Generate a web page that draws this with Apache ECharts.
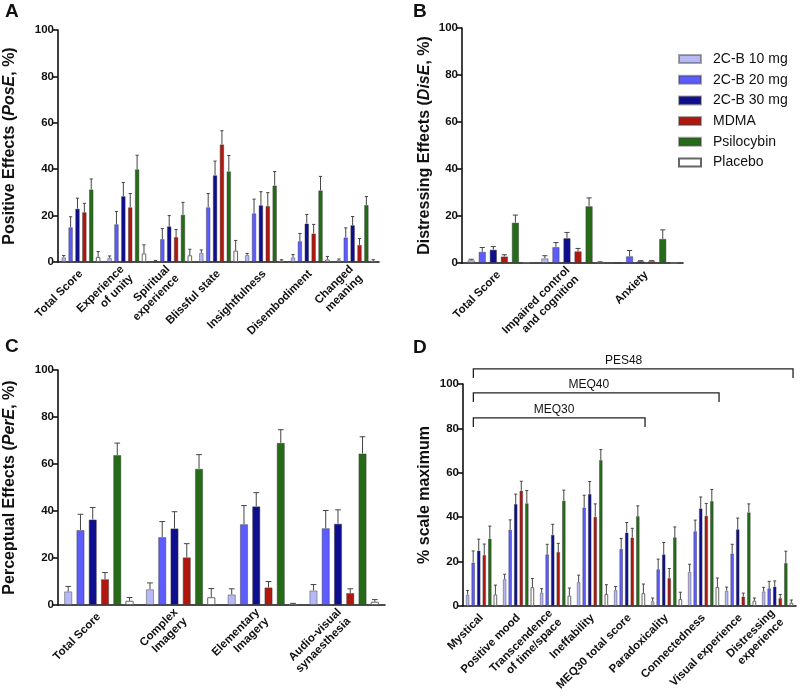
<!DOCTYPE html>
<html>
<head>
<meta charset="utf-8">
<script src="https://cdn.jsdelivr.net/npm/echarts@6/dist/echarts.min.js"></script>
<style>
  html, body { margin: 0; padding: 0; background: #fff; }
  #main { width: 800px; height: 696px; }
</style>
</head>
<body>
<div id="main"></div>
<script>
// groups (same order in every panel)
const groups = ['2C-B 10 mg', '2C-B 20 mg', '2C-B 30 mg', 'MDMA', 'Psilocybin', 'Placebo'];
const groupColors = ['#b7b9f5', '#5c5cff', '#0e0e8e', '#b0170f', '#256b18', '#ffffff'];

// A - positive effects
const posCats = ['Total Score', 'Experience\nof unity', 'Spiritual\nexperience', 'Blissful state',
  'Insightfulness', 'Disembodiment', 'Changed\nmeaning'];
const posMean = [
  [2.0, 1.8, 0.4, 3.9, 3.0, 2.0, 0.9],
  [15.0, 16.3, 9.9, 23.6, 21.0, 9.0, 10.6],
  [23.0, 28.4, 15.4, 37.4, 24.5, 16.6, 15.9],
  [21.5, 23.6, 10.8, 50.7, 24.2, 12.3, 7.4],
  [31.3, 40.0, 20.4, 39.1, 33.0, 30.9, 24.6],
  [2.2, 3.7, 2.9, 4.9, 0.6, 1.1, 0.5]
];
const posTop = [
  [2.8, 2.6, 0.7, 5.2, 3.7, 3.2, 1.3],
  [19.5, 21.8, 14.4, 29.5, 27.1, 12.3, 14.7],
  [27.5, 34.3, 20.0, 43.5, 30.3, 20.5, 19.6],
  [25.3, 29.5, 14.0, 56.6, 29.9, 16.2, 10.1],
  [35.8, 46.0, 25.7, 45.9, 39.0, 36.9, 28.2],
  [4.5, 7.4, 5.5, 9.3, 1.0, 2.4, 1.0]
];

// B - distressing effects
const disCats = ['Total Score', 'Impaired control\nand cognition', 'Anxiety'];
const disMean = [
  [1.2, 2.0, 0.0],
  [4.8, 6.8, 2.9],
  [5.7, 10.6, 0.8],
  [2.8, 5.0, 0.8],
  [17.2, 24.2, 10.3],
  [0.2, 0.3, 0.0]
];
const disTop = [
  [1.6, 3.1, 0.0],
  [6.6, 8.7, 5.3],
  [7.0, 13.0, 1.0],
  [3.5, 6.2, 1.0],
  [20.4, 27.7, 14.1],
  [0.2, 0.5, 0.0]
];

// C - perceptual effects
const perCats = ['Total Score', 'Complex\nImagery', 'Elementary\nImagery', 'Audio-visual\nsynaesthesia'];
const perMean = [
  [5.8, 6.7, 4.5, 6.2],
  [31.9, 28.9, 34.4, 32.7],
  [36.4, 32.6, 42.0, 34.6],
  [11.0, 20.3, 7.5, 5.1],
  [63.8, 58.0, 69.0, 64.5],
  [1.8, 3.3, 0.4, 1.4]
];
const perTop = [
  [7.9, 9.4, 6.9, 8.7],
  [38.6, 35.5, 42.3, 40.2],
  [41.5, 39.7, 47.8, 40.5],
  [13.8, 26.1, 10.0, 6.9],
  [68.9, 64.0, 74.6, 71.6],
  [3.2, 7.0, 0.7, 2.3]
];

// D - % scale maximum
const scaleCats = ['Mystical', 'Positive mood', 'Transcendence\nof time/space', 'Ineffability',
  'MEQ30 total score', 'Paradoxicality', 'Connectedness', 'Visual experience', 'Distressing\nexperience'];
const scaleMean = [
  [5.1, 12.1, 6.1, 10.8, 7.2, 2.2, 15.4, 6.9, 6.6],
  [19.6, 34.4, 23.3, 44.4, 25.8, 16.6, 33.7, 23.7, 8.0],
  [25.0, 46.0, 32.1, 50.5, 33.1, 23.3, 44.0, 34.6, 8.8],
  [23.0, 52.0, 24.4, 40.2, 30.9, 12.6, 40.7, 4.3, 3.6],
  [30.4, 46.3, 47.5, 65.8, 40.5, 31.0, 47.3, 42.2, 19.4],
  [5.2, 8.5, 4.7, 5.4, 5.8, 3.1, 8.6, 2.4, 1.5]
];
const scaleTop = [
  [7.0, 14.3, 7.8, 13.9, 8.8, 3.6, 18.8, 8.5, 8.4],
  [24.8, 38.8, 27.8, 49.9, 30.4, 21.1, 38.7, 27.8, 11.1],
  [30.1, 50.4, 36.8, 56.1, 37.6, 28.6, 49.1, 39.6, 11.3],
  [27.9, 56.2, 28.2, 46.0, 35.0, 16.9, 46.2, 5.8, 5.2],
  [36.0, 52.0, 52.2, 70.5, 45.1, 35.6, 52.5, 46.0, 24.7],
  [9.4, 12.4, 8.1, 9.6, 9.9, 6.2, 12.6, 3.6, 2.7]
];

// brackets above panel D
const bracketNames = ['MEQ30', 'MEQ40', 'PES48'];
const bracketEnd = [4, 6, 8];
const bracketLevel = [84.7, 96, 106.8];

const FONT = 'Liberation Sans, Arial, sans-serif';
const BAR_GAP = 0.5, CAT_GAP = 0.15;

const panels = [
  { cats: posCats, mean: posMean, top: posTop, grid: { left: 58, top: 30, width: 321, height: 232 },
    name: '{b|Positive Effects (}{i|PosE}{b|, %)}', nameGap: 40 },
  { cats: disCats, mean: disMean, top: disTop, grid: { left: 462, top: 28, width: 221, height: 235 },
    name: '{b|Distressing Effects (}{i|DisE}{b|, %)}', nameGap: 29 },
  { cats: perCats, mean: perMean, top: perTop, grid: { left: 58, top: 370, width: 327, height: 235 },
    name: '{b|Perceptual Effects (}{i|PerE}{b|, %)}', nameGap: 40 },
  { cats: scaleCats, mean: scaleMean, top: scaleTop, grid: { left: 463, top: 384, width: 333, height: 222 },
    name: '{b|% scale maximum}', nameGap: 30 }
];

const grids = [], xAxes = [], yAxes = [], series = [];
const axisLineStyle = { color: '#111', width: 1.6 };

panels.forEach(function (p, pi) {
  grids.push(Object.assign({ containLabel: false }, p.grid));
  xAxes.push({
    type: 'category', gridIndex: pi, data: p.cats,
    axisLine: { lineStyle: axisLineStyle },
    axisTick: { alignWithLabel: true, length: 5, lineStyle: axisLineStyle },
    axisLabel: { rotate: 45, interval: 0, margin: 10, color: '#111', fontFamily: FONT,
      fontWeight: 'bold', fontSize: 11.5, lineHeight: 13 },
    splitLine: { show: false }
  });
  yAxes.push({
    type: 'value', gridIndex: pi, min: 0, max: 100, interval: 20,
    name: p.name, nameLocation: 'middle', nameGap: p.nameGap, nameRotate: 90,
    nameTextStyle: {
      rich: {
        b: { fontFamily: FONT, fontWeight: 'bold', fontSize: 16, color: '#111' },
        i: { fontFamily: FONT, fontWeight: 'bold', fontStyle: 'italic', fontSize: 16, color: '#111' }
      }
    },
    axisLine: { show: true, lineStyle: axisLineStyle },
    axisTick: { show: true, length: 5, lineStyle: axisLineStyle },
    axisLabel: { color: '#111', fontFamily: FONT, fontWeight: 'bold', fontSize: 11.5, margin: 4 },
    splitLine: { show: false }
  });

  groups.forEach(function (g, gi) {
    series.push({
      type: 'bar', name: g, xAxisIndex: pi, yAxisIndex: pi,
      data: p.mean[gi],
      barGap: (BAR_GAP * 100) + '%', barCategoryGap: (CAT_GAP * 100) + '%',
      itemStyle: { color: groupColors[gi], borderColor: gi === 5 ? '#666' : 'rgba(60,60,60,0.45)', borderWidth: 1 },
      emphasis: { disabled: true },
      silent: true
    });
  });

  // error bars (upper only, with cap)
  const errData = [];
  p.mean.forEach(function (row, gi) {
    row.forEach(function (v, ci) { errData.push([ci, gi, v, p.top[gi][ci]]); });
  });
  series.push({
    type: 'custom', xAxisIndex: pi, yAxisIndex: pi, z: 5, silent: true,
    encode: { x: 0, y: 3 },
    data: errData,
    renderItem: function (params, api) {
      const n = groups.length;
      const band = api.size([1, 0])[0];
      const w = band * (1 - CAT_GAP) / (n + (n - 1) * BAR_GAP);
      const total = n * w + (n - 1) * BAR_GAP * w;
      const off = -total / 2 + api.value(1) * w * (1 + BAR_GAP) + w / 2;
      const base = api.coord([api.value(0), api.value(2)]);
      const tip = api.coord([api.value(0), api.value(3)]);
      const x = base[0] + off;
      if (api.value(3) - api.value(2) < 0.05) return null;
      const cap = Math.max(w * 0.35, 1.5);
      const st = { stroke: '#444', lineWidth: 1 };
      return {
        type: 'group',
        children: [
          { type: 'line', shape: { x1: x, y1: base[1], x2: x, y2: tip[1] }, style: st },
          { type: 'line', shape: { x1: x - cap, y1: tip[1], x2: x + cap, y2: tip[1] }, style: st }
        ]
      };
    }
  });
});

// brackets in panel D
series.push({
  type: 'custom', xAxisIndex: 3, yAxisIndex: 3, clip: false, silent: true, z: 6,
  encode: { x: 0, y: 2 },
  data: bracketNames.map(function (nm, i) { return [0, bracketEnd[i], bracketLevel[i], nm]; }),
  renderItem: function (params, api) {
    const band = api.size([1, 0])[0];
    const a = api.coord([api.value(0), api.value(2)]);
    const b = api.coord([api.value(1), api.value(2)]);
    const x1 = a[0] - 0.22 * band, x2 = b[0] + 0.42 * band, y = a[1];
    const st = { stroke: '#222', lineWidth: 1.3, fill: null };
    return {
      type: 'group',
      children: [
        { type: 'polyline', shape: { points: [[x1, y + 9], [x1, y], [x2, y], [x2, y + 9]] }, style: st },
        { type: 'text', style: { text: bracketNames[params.dataIndex], x: (x1 + x2) / 2 - 0.03 * (x2 - x1), y: y - 2,
          textAlign: 'center', textVerticalAlign: 'bottom', fontFamily: FONT, fontSize: 12, fill: '#111' } }
      ]
    };
  }
});

const letterStyle = { fontFamily: FONT, fontWeight: 'bold', fontSize: 19, fill: '#111' };
const option = {
  backgroundColor: '#fff',
  animation: false,
  grid: grids,
  xAxis: xAxes,
  yAxis: yAxes,
  legend: {
    data: groups, orient: 'vertical', left: 673, top: 46,
    itemWidth: 22, itemHeight: 8, itemGap: 4.7, icon: 'rect',
    selectedMode: false,
    textStyle: { fontFamily: FONT, fontSize: 14, color: '#111', lineHeight: 16, padding: [0, 0, 0, 7] }
  },
  graphic: [
    { type: 'text', left: 5, top: 2, style: Object.assign({ text: 'A' }, letterStyle) },
    { type: 'text', left: 413, top: 2, style: Object.assign({ text: 'B' }, letterStyle) },
    { type: 'text', left: 5, top: 337, style: Object.assign({ text: 'C' }, letterStyle) },
    { type: 'text', left: 413, top: 338, style: Object.assign({ text: 'D' }, letterStyle) }
  ],
  series: series
};

const myChart = echarts.init(document.getElementById('main'), null, { renderer: 'canvas' });
myChart.setOption(option);
</script>
</body>
</html>
